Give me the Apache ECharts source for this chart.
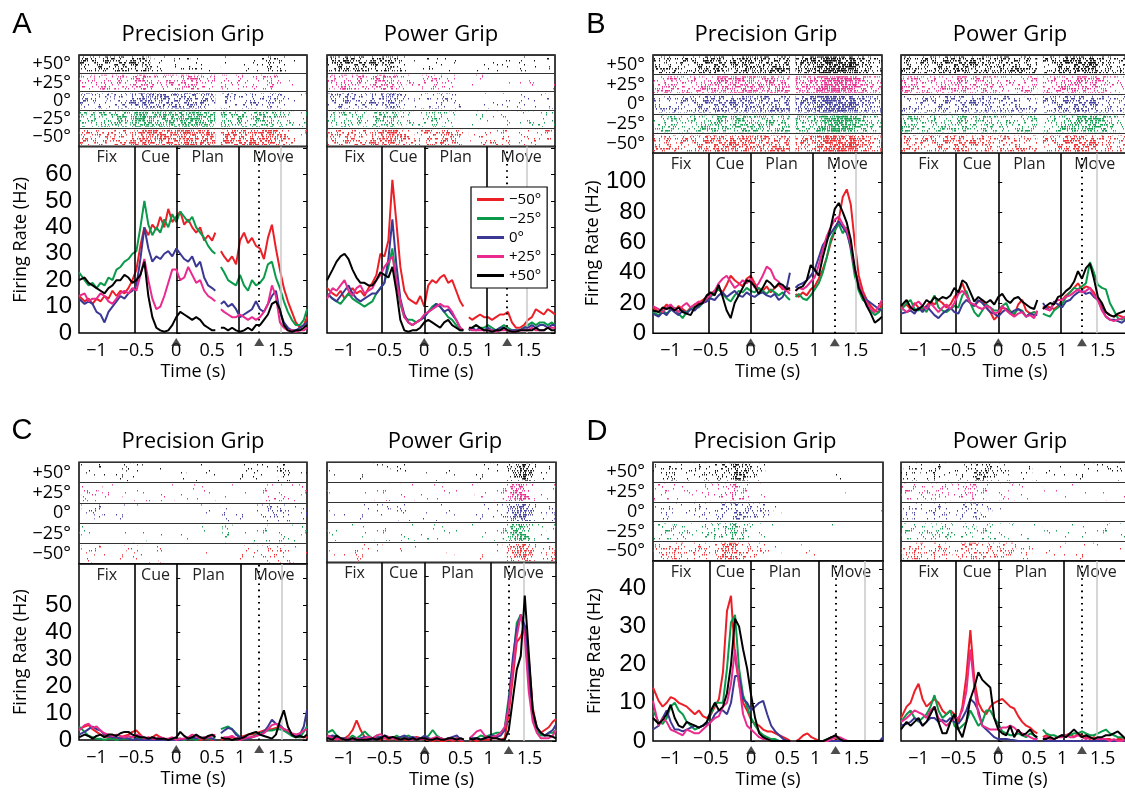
<!DOCTYPE html>
<html>
<head>
<meta charset="utf-8">
<script src="https://cdn.jsdelivr.net/npm/echarts@6/dist/echarts.min.js"></script>
<style>
  html, body { margin: 0; padding: 0; background: #fff; }
  #chart { width: 1125px; height: 792px; }
</style>
</head>
<body>
<div id="chart"></div>
<script>
// plot time: first segment aligned on cue, second segment (after the gap) aligned on movement
var T1 = [-1.22, -1.15, -1.1, -1.05, -1, -0.95, -0.9, -0.85, -0.8, -0.75, -0.7, -0.65, -0.6, -0.55, -0.5, -0.45, -0.4, -0.35,
  -0.3, -0.25, -0.2, -0.15, -0.1, -0.05, 0, 0.05, 0.1, 0.15, 0.2, 0.25, 0.3, 0.35, 0.4, 0.45, 0.49];
var T2 = [0.56, 0.6, 0.65, 0.7, 0.75, 0.8, 0.85, 0.9, 0.95, 1, 1.05, 1.1, 1.15, 1.2, 1.25, 1.3, 1.35, 1.4, 1.45, 1.5, 1.55, 1.6, 1.64];
var GAP_T = 0.525;

var TICK_POS = [-1, -0.5, 0, 0.45, 0.8, 1.31];
var TICK_LABELS = ['−1', '−0.5', '0', '0.5', '1', '1.5'];
var COND_NAMES = ['−50°', '−25°', '0°', '+25°', '+50°'];
var RASTER_ROWS = ['+50°', '+25°', '0°', '−25°', '−50°'];
var EPOCH_NAMES = ['Fix', 'Cue', 'Plan', 'Move'];
var GRIPS = ['Precision Grip', 'Power Grip'];
var PANEL_LETTERS = ['A', 'B', 'C', 'D'];

// [fix/cue, cue/plan, plan/move, movement onset (dotted), grey marker]
var EPOCHS_A_PREC = [-0.52, 0, 0.79, 1.04, 1.31];
var EPOCHS_A_POW = [-0.53, 0, 0.79, 1.04, 1.28];
var EPOCHS_B_PREC = [-0.52, 0, 0.77, 1.05, 1.31];
var EPOCHS_B_POW = [-0.53, 0, 0.78, 1.05, 1.24];
var EPOCHS_C_PREC = [-0.52, 0, 0.81, 1.04, 1.32];
var EPOCHS_C_POW = [-0.53, 0, 0.82, 1.05, 1.24];
var EPOCHS_D_PREC = [-0.52, 0, 0.84, 1.05, 1.41];
var EPOCHS_D_POW = [-0.53, 0, 0.82, 1.05, 1.24];

var Y_TICKS_A = [0, 10, 20, 30, 40, 50, 60, 70];
var Y_LABELS_A = [0, 10, 20, 30, 40, 50, 60];
var Y_TICKS_B = [0, 20, 40, 60, 80, 100];
var Y_LABELS_B = [0, 20, 40, 60, 80, 100];
var Y_TICKS_C = [0, 10, 20, 30, 40, 50, 60];
var Y_LABELS_C = [0, 10, 20, 30, 40, 50];
var Y_TICKS_D = [0, 5, 10, 15, 20, 25, 30, 35, 40, 45];
var Y_LABELS_D = [0, 10, 20, 30, 40];

// firing rates (Hz): segment 1, null (gap), segment 2
var A_PREC_M50 = [14,12,13,11,13,12,14,13,16,14,16,15,17,20,24,33,40,37,41,39,44,40,47,42,44,46,41,43,40,38,40,35,37,35,38, null,
  31,29,27,29,26,35,38,34,36,33,32,28,36,41,32,24,17,12,8,4,2,3,6];
var A_PREC_M25 = [23,20,18,19,17,19,18,21,20,24,25,27,28,30,31,40,50,41,37,40,38,43,40,45,42,46,44,42,44,40,38,36,33,31,30, null,
  25,23,20,19,18,22,18,16,20,18,19,21,26,27,21,17,12,8,5,3,3,5,9];
var A_PREC_0 = [13,11,12,11,8,7,4,8,10,12,14,13,15,16,18,28,40,32,27,29,28,30,31,29,32,30,28,27,29,25,27,21,18,17,16, null,
  11,12,10,11,9,6,7,8,9,12,9,8,11,14,16,8,4,2,1,1,2,3,4];
var A_PREC_P25 = [14,15,12,13,13,15,14,12,11,13,15,16,15,17,16,22,28,20,13,9,10,14,19,24,24,20,21,25,22,19,20,16,14,13,12, null,
  9,8,7,6,6,7,6,5,6,5,6,8,11,18,14,4,2,1,1,0.5,1,1,2];
var A_PREC_P50 = [20,21,19,18,17,16,15,17,18,20,20,22,21,19,20,22,27,14,6,2,1,0.5,1,3,6,8,7,6,5,6,5,3,2,1,1, null,
  2,2,1,2,1,0.5,1,2,1,3,3,5,7,11,12,9,3,1,0.5,1,1,2,3];

var A_POW_M50 = [17,15,14,16,13,15,17,15,16,14,17,19,22,30,29,35,58,42,25,16,13,12,11,14,10,18,20,19,21,22,19,20,16,12,10, null,
  6,5,6,7,6,6,5,6,7,7,8,4,2,2,3,5,6,9,8,7,9,8,7];
var A_POW_M25 = [15,13,12,11,13,15,13,12,11,10,11,12,15,17,19,25,32,20,11,6,5,5,4,5,6,8,10,11,10,8,6,5,3,1,1, null,
  1,2,3,2,2,3,2,1,2,3,2,1,1,1,2,3,4,3,4,4,3,4,3];
var A_POW_0 = [15,13,12,14,16,18,15,13,12,13,14,15,15,17,19,28,43,26,13,7,4,3,4,5,6,8,9,11,10,8,9,7,5,2,1, null,
  1,2,1,2,1,2,1,1,2,2,1,1,1,1,2,2,3,2,3,3,2,3,3];
var A_POW_P25 = [13,17,16,18,20,16,14,17,18,15,16,17,20,22,25,27,29,20,12,6,4,3,4,5,7,8,9,10,11,10,10,8,5,2,1, null,
  2,1,1,1,1,1,1,0.5,1,1,1,0.5,0.5,1,1,1,2,1,1,1,2,2,2];
var A_POW_P50 = [20,24,27,29,30,28,24,21,19,19,18,18,20,23,22,21,25,16,5,1,0.5,1,1,2,4,5,4,3,2,4,5,3,2,1,1, null,
  2,2,3,2,1,1,0.5,1,1,2,1,0.5,0.5,1,1,1,1,2,1,1,2,1,1];

var B_PREC_M50 = [17,14,16,19,17,15,18,16,14,17,19,20,22,24,26,28,30,27,32,38,35,33,31,36,38,33,29,28,31,27,30,32,29,31,28, null,
  26,24,27,25,29,31,36,42,50,60,67,75,90,95,85,60,38,28,22,18,15,14,20];
var B_PREC_M25 = [14,12,15,13,15,17,13,10,14,16,18,17,20,22,24,27,29,26,23,21,25,28,27,30,28,27,30,28,26,29,27,25,27,24,22, null,
  24,26,23,22,25,29,33,40,50,62,68,72,66,70,55,38,28,22,20,15,12,14,17];
var B_PREC_0 = [13,11,14,12,16,14,12,15,13,16,15,18,20,21,23,22,25,27,24,26,28,25,24,27,25,24,26,27,25,24,26,22,24,30,40, null,
  30,32,33,35,38,42,50,58,62,66,70,74,70,66,57,42,32,25,22,20,18,16,15];
var B_PREC_P25 = [18,16,14,17,19,16,14,18,20,17,19,21,20,23,25,28,33,36,38,34,30,32,35,33,36,30,33,38,44,42,36,34,30,28,26, null,
  28,30,29,31,34,37,45,55,64,70,75,77,72,68,59,42,33,25,20,16,14,18,22];
var B_PREC_P50 = [15,14,17,16,17,15,17,14,13,12,17,19,20,25,27,25,32,24,15,10,20,25,30,35,34,31,26,30,35,33,30,33,32,29,30, null,
  28,30,31,35,45,42,38,50,60,70,82,86,80,73,62,43,30,24,18,13,7,9,11];

var B_POW_M50 = [17,19,16,20,17,15,18,21,19,22,20,17,19,24,27,33,26,20,18,21,22,17,14,9,12,17,16,15,12,19,22,15,13,14,13, null,
  17,18,17,16,18,22,25,27,30,33,29,31,30,27,22,18,14,12,11,12,11,9,10];
var B_POW_M25 = [15,20,22,16,15,17,14,20,25,17,15,14,16,18,17,25,28,20,14,11,15,19,17,15,15,18,20,14,13,16,15,11,13,14,13, null,
  13,12,11,15,17,19,24,27,30,29,31,33,47,40,32,30,29,20,15,10,9,11,12];
var B_POW_0 = [13,14,15,13,17,14,18,15,12,10,13,15,17,14,13,19,22,20,18,22,20,17,14,13,11,14,16,13,15,16,14,11,13,12,12, null,
  20,17,15,21,19,17,21,22,25,27,28,26,27,24,22,16,11,9,9,8,7,9,10];
var B_POW_P25 = [17,14,16,19,21,18,16,20,17,14,17,19,16,20,26,28,25,20,19,17,16,18,17,13,14,18,15,13,11,13,14,11,12,10,15, null,
  17,16,15,20,22,22,24,25,27,29,27,28,30,25,22,15,11,9,8,9,10,11,11];
var B_POW_P50 = [18,22,17,15,16,18,22,20,24,22,24,23,25,30,27,35,33,27,21,24,22,20,22,19,24,26,22,20,23,24,21,19,17,16,22, null,
  16,18,20,19,24,25,28,30,34,41,36,43,46,36,24,20,14,12,11,13,14,15,16];

var C_PREC_M50 = [4,5,5.5,4,3,2,1.5,1,1,0.5,1,1.5,2,3,3.5,2,0.5,0.5,1,2,1,0.5,0,0,0.5,0.5,0,0.5,1,0.5,0,0.5,0.5,0,0, null,
  0,0.5,0.5,1,0.5,1,1.5,2,2,2.5,3,3.5,4,4,4.5,5,4,3,2,2,1,1,1];
var C_PREC_M25 = [5,3,1.5,1,0.5,0.5,0,0.5,0.5,0,0.5,0.5,0.5,1,1,0.5,0.5,0,0.5,0.5,0.5,0,0,0,0.5,0.5,0,0.5,0.5,0,0.5,1,0.5,0.5,1, null,
  4,4.5,5,4,2.5,1,0.5,0.5,1,2,2.5,3,3.5,3.5,4,4,3.5,2.5,1.5,1,1,3,5];
var C_PREC_0 = [2,3,4,5,4,3.5,2,1.5,1,1,0.5,1,0.5,0,0.5,0,0,0,0,0,0,0,0,0,0,0,0.5,0.5,1,0.5,1,0.5,1,0.5,0, null,
  2.5,3.5,4.5,4,2,1,0.5,0.5,1,1.5,2,3,5,7.5,6,5.5,4,3.5,2,1.5,2,5,11];
var C_PREC_P25 = [3.5,5.5,6,4.5,5,3.5,2.5,2,1.5,2,1.5,1,1.5,1,2,1.5,0.5,1,0.5,0.5,1,0.5,0.5,1,0,0.5,0.5,1,2,1.5,0.5,1,1,1.5,2, null,
  0.5,1,1,1.5,0.5,0,0.5,1,1,1.5,2,2.5,4,5.5,6,5,4,3.5,2.5,2,2.5,3.5,4];
var C_PREC_P50 = [1,2,1.5,0.5,1.5,2,1,2,2,1.5,2.5,3,3,2,1.5,1,1,0.5,1,0.5,0.5,0.5,0,0.5,1,3,1.5,0.5,1,2,1,0.5,1.5,2,1, null,
  1,0.5,0.5,0,0.5,0.5,1,2,2.5,3,2,1.5,1,0.5,2,7,11,5,2,1,1.5,1,2];

var C_POW_M50 = [2,1.5,1,0.5,1,2,4,7.5,4,1.5,1,0.5,1,0.5,1,0.5,1,0.5,1,0.5,0.5,1,1.5,1,0.5,0.5,0,0.5,0,0,0.5,0,0.5,0,0, null,
  0,0.5,0,0.5,0.5,0.5,1,1,0.5,1,10,23,36,38,42,30,12,5,3,4,5,7,8];
var C_POW_M25 = [3,4,2,1,0.5,1,2,1,2,3.5,2,1,2,1,1.5,1,1,2,1,1.5,2,1,1,0.5,1,2,4,2,1,0.5,1,0.5,1,0.5,0.5, null,
  0.5,1,1,2,1.5,2,2.5,3,3,5,16,28,43,46,40,22,9,4,2,2,3,3,4];
var C_POW_0 = [1,2,1.5,1,1,0.5,1,0.5,1,1.5,1,0.5,1,1.5,2,1.5,1,1,1.5,2,1,1.5,1,1,2,1,0.5,1,1,0.5,1,1.5,2,0.5,0.5, null,
  0.5,1,1,0.5,1,1.5,2,1.5,2,4,14,30,41,46,42,24,10,5,3,2,3,4,6];
var C_POW_P25 = [2,1,0.5,1,0.5,1,0.5,1,0.5,1,1.5,1,2,2.5,1,1.5,1,1,0.5,1,0.5,0.5,1,0.5,1,0.5,1,1.5,1,0.5,1,0.5,1,0.5,0.5, null,
  1,2,3.5,4,2,1,1.5,2,3,5,12,26,38,46,38,18,7,3,1,1,1,2,4];
var C_POW_P50 = [1,0.5,2,1,0.5,0.5,1,0.5,0.5,0.5,0.5,1,0.5,1,2,1,1.5,1,0.5,1,0.5,1,0.5,1,1,0.5,0.5,1,0.5,0.5,1,1,0.5,1,0.5, null,
  1,0.5,1,0.5,1,1.5,1,1,0.5,0.5,4,15,26,31,53,32,11,5,3,2,2,1.5,1];

var D_PREC_M50 = [14,10.5,9,10,11.5,11,10,9.5,9,8,7,8,6.5,6,7,9,11,18,34,38,22,15,10,8,5.5,4.5,4,3,2.5,2.5,2,1.5,1,0.5,0, null,
  0,0.5,1.5,2,1,0.5,0,0,0.5,1,0.5,0,0,0,0,0,0,0,0,0,0,0,0];
var D_PREC_M25 = [8,5,4.5,6,9,10,8,7,5,4,3,3.5,4,5,7,10,10,10,19,31,33,19,12,9,6,4,2.5,1.5,1,0.5,0.5,0,0,0,0, null,
  0,0,0,0,0,0,0,0,0.5,1,1,0.5,0,0,0,0,0,0,0,0,0,0,0];
var D_PREC_0 = [3,4,6,8,5,3,3,2.5,3,3.5,4,3.5,4,4.5,5,7,8,8,7,10,17,17,11,10,8,9,10,10.5,7,4,2.5,1.5,0.5,0,0, null,
  0,0,0,0,0,0,0,0,0,0,0,0,0,0,0,0,0,0,0,0,0,0,1];
var D_PREC_P25 = [10.5,4,6,5,3,2.5,2,1.5,3,2.5,2,2,3,4,5,6,6.5,9,10,15,24,15,7,4,3,2,1,0.5,0.5,0,0,0,0,0,0, null,
  0,0,0,0,0,0,0,0,0,0.5,1,1,0.5,0,0,0,0,0,0,0,0,0,0];
var D_PREC_P50 = [6,4.5,5.5,7,9.5,6,4,3.5,5,4.5,4,3.5,4,5,8,10,8,9,12.5,20,32,30,24,19,12,6,2,1,0.5,0,0,0,0,0,0, null,
  0,0,0,0,0,0,0,0,0.5,1,1.5,0.5,0,0,0,0,0,0,0,0,0,0,0];

var D_POW_M50 = [6,9,10,13,15,11,9,10,11,10,8,7,8,7,5,9,17,29,16,10,8,7,9,10,10.5,11,10,9,8.5,6.5,5,4,3.5,2.5,2, null,
  1,1.5,1,0.5,1,1.5,1.5,2,1,2,1.5,1,0.5,1,0.5,0.5,0.5,0.5,0,0.5,0.5,0,0];
var D_POW_M25 = [5,7,8,6,5,6,7,9,12,8,6,7,8,4,3,4,5,8,6,4,5,8,8,6,4.5,2.5,2,1.5,1.5,2,1.5,1,2,1.5,0.5, null,
  3,2,1.5,1.5,1,1.5,1.5,1.5,2,2,2.5,2,1.5,1.5,2,2.5,3,2,1.5,1,1,0.5,0.5];
var D_POW_0 = [4,4.5,5,6,5.5,4,5,6,6,5,5.5,5,6,5,4.5,6,8,11,10,8,4,3,2,1,0.5,0.5,0.5,0.3,0.2,0,0,0,0,0,0, null,
  0,0,0,0,0,0,0,0,0,0,0,0,0,0,0,0,0,0,0,0,0,0,0.5];
var D_POW_P25 = [5,6,7,8,7.5,7,6,8,9,6,5,4,5,6,6,8,13,24,14,7,4,3.5,3,3,3,3.5,3.5,4,3.5,2.5,2,1.5,1,0.5,0.5, null,
  0.5,1,0.5,0.5,1,1,1.5,1,1,1.5,1,0.5,1,0.5,0.5,0.5,0.5,0,0.5,0,0,0.5,0.5];
var D_POW_P50 = [3,5,4,5,6,4,5,7,9,5,2,2,5,7,3,1,5,11,14,18,16,15,14,6,3,2,1.5,4,1,3,1.5,2,3,1.5,1, null,
  0.5,0.5,1,0.5,1,1.5,1,2,3,2,1,1.5,1,0.5,1,1,1.5,1.5,2,2.5,1.5,0.5,0.5];

var SUBPLOTS = [
  {rates: [A_PREC_M50, A_PREC_M25, A_PREC_0, A_PREC_P25, A_PREC_P50], epochs: EPOCHS_A_PREC, ticks: Y_TICKS_A, labels: Y_LABELS_A},
  {rates: [A_POW_M50, A_POW_M25, A_POW_0, A_POW_P25, A_POW_P50], epochs: EPOCHS_A_POW, ticks: Y_TICKS_A, labels: Y_LABELS_A},
  {rates: [B_PREC_M50, B_PREC_M25, B_PREC_0, B_PREC_P25, B_PREC_P50], epochs: EPOCHS_B_PREC, ticks: Y_TICKS_B, labels: Y_LABELS_B},
  {rates: [B_POW_M50, B_POW_M25, B_POW_0, B_POW_P25, B_POW_P50], epochs: EPOCHS_B_POW, ticks: Y_TICKS_B, labels: Y_LABELS_B},
  {rates: [C_PREC_M50, C_PREC_M25, C_PREC_0, C_PREC_P25, C_PREC_P50], epochs: EPOCHS_C_PREC, ticks: Y_TICKS_C, labels: Y_LABELS_C},
  {rates: [C_POW_M50, C_POW_M25, C_POW_0, C_POW_P25, C_POW_P50], epochs: EPOCHS_C_POW, ticks: Y_TICKS_C, labels: Y_LABELS_C},
  {rates: [D_PREC_M50, D_PREC_M25, D_PREC_0, D_PREC_P25, D_PREC_P50], epochs: EPOCHS_D_PREC, ticks: Y_TICKS_D, labels: Y_LABELS_D},
  {rates: [D_POW_M50, D_POW_M25, D_POW_0, D_POW_P25, D_POW_P50], epochs: EPOCHS_D_POW, ticks: Y_TICKS_D, labels: Y_LABELS_D}
];

// layout (pixels)
var X_MIN = -1.22, X_MAX = 1.64;
var LAYOUT = [
  {left: 79, width: 228, rasterTop: 55, rateTop: 146.5, bottom: 333, yMax: 70.6, titleX: 193, titleY: 35},
  {left: 327, width: 228, rasterTop: 55, rateTop: 146.5, bottom: 333, yMax: 70.6, titleX: 441, titleY: 35},
  {left: 653, width: 229, rasterTop: 55, rateTop: 153.3, bottom: 333.3, yMax: 118.8, titleX: 766, titleY: 35},
  {left: 901, width: 228, rasterTop: 55, rateTop: 153.3, bottom: 333.3, yMax: 118.8, titleX: 1010, titleY: 35},
  {left: 79, width: 228, rasterTop: 462.3, rateTop: 564, bottom: 740, yMax: 65.2, titleX: 193, titleY: 442},
  {left: 327, width: 229, rasterTop: 462.3, rateTop: 562.5, bottom: 741, yMax: 65, titleX: 445, titleY: 442},
  {left: 653, width: 230, rasterTop: 462.3, rateTop: 561, bottom: 741, yMax: 47.1, titleX: 765, titleY: 442},
  {left: 901, width: 228, rasterTop: 462.3, rateTop: 561, bottom: 741, yMax: 47.1, titleX: 1010, titleY: 442}
];
var LETTER_POS = [[22, 25], [596, 25], [22, 431], [597, 432]];

var COLORS = ['#ec1f27', '#0a9a4a', '#3b3894', '#ea2a8c', '#000000'];
var RASTER_COLORS = ['#111111', '#ea2f90', '#4440a0', '#12a050', '#ee3035'];
var FONT = "'Open Sans', 'Noto Sans', sans-serif";
var NUM_FONT = "'Liberation Sans', Arial, sans-serif";

var U = T1.concat([GAP_T], T2);

// stipple texture for the raster rows: one tick per spike, trials every 2 px; tick count follows the firing rate
var TILE_W = 120, TILE_H = 40;
var tiles = {};
function scramble(i, s) {
  var h = Math.imul(i + 1, 374761393) + Math.imul(s, 668265263);
  h = Math.imul(h ^ (h >>> 13), 1274126177);
  return (h ^ (h >>> 16)) >>> 0;
}
function stipple(color, rate) {
  var n = Math.min(3000, Math.round(rate * 45 / 10) * 10);
  var key = color + n;
  if (!tiles[key]) {
    var c = document.createElement('canvas');
    c.width = TILE_W; c.height = TILE_H;
    var ctx = c.getContext('2d');
    ctx.fillStyle = color;
    for (var i = 0; i < n; i++) {
      ctx.fillRect(scramble(i, 1) % TILE_W, (scramble(i, 2) % (TILE_H / 2)) * 2, 1, 1.5);
    }
    tiles[key] = {image: c, repeat: 'repeat'};
  }
  return tiles[key];
}

function rasterData(rates) {
  var items = [];
  var segs = [[0, T1.length - 1], [T1.length + 1, U.length - 1]];
  for (var r = 0; r < 5; r++) {
    var vals = rates[4 - r];
    segs.forEach(function (s) {
      for (var i = s[0]; i <= s[1]; i++) {
        var lo = i === s[0] ? U[i] : (U[i - 1] + U[i]) / 2;
        var hi = i === s[1] ? U[i] : (U[i] + U[i + 1]) / 2;
        items.push([lo, hi, r, vals[i]]);
      }
    });
  }
  return items;
}

function renderRaster(params, api) {
  var row = api.value(2);
  var p0 = api.coord([api.value(0), row]);
  var p1 = api.coord([api.value(1), row]);
  var band = api.size([0, 1])[1];
  return {
    type: 'rect',
    shape: {x: p0[0], y: p0[1] - band / 2 + 1.5, width: p1[0] - p0[0], height: band - 3},
    style: {fill: stipple(RASTER_COLORS[row], api.value(3))}
  };
}

var grids = [], xAxes = [], yAxes = [], series = [], graphics = [];

SUBPLOTS.forEach(function (sp, k) {
  var L = LAYOUT[k];
  var isPrec = k % 2 === 0;
  var e = sp.epochs;
  grids.push({left: L.left, top: L.rasterTop, width: L.width, height: L.rateTop - L.rasterTop,
    show: true, borderColor: '#000', borderWidth: 1.5, containLabel: false, outerBoundsMode: 'none'});
  grids.push({left: L.left, top: L.rateTop, width: L.width, height: L.bottom - L.rateTop,
    show: true, borderColor: '#000', borderWidth: 1.5, containLabel: false, outerBoundsMode: 'none'});

  xAxes.push({type: 'value', gridIndex: 2 * k, min: X_MIN, max: X_MAX, show: false});
  xAxes.push({
    type: 'value', gridIndex: 2 * k + 1, min: X_MIN, max: X_MAX,
    axisLine: {show: false}, axisTick: {show: false}, splitLine: {show: false},
    axisLabel: {
      customValues: TICK_POS, margin: 9, color: '#000', fontSize: 18, fontFamily: FONT,
      formatter: function (v) {
        var best = 0;
        TICK_POS.forEach(function (p, i) { if (Math.abs(p - v) < Math.abs(TICK_POS[best] - v)) best = i; });
        return TICK_LABELS[best];
      }
    },
    name: 'Time (s)', nameLocation: 'middle', nameGap: 30,
    nameTextStyle: {color: '#000', fontSize: 18, fontFamily: FONT}
  });

  yAxes.push({
    type: 'category', gridIndex: 2 * k, data: RASTER_ROWS, inverse: true,
    axisLine: {show: false}, axisTick: {show: false},
    axisLabel: {show: isPrec, interval: 0, color: '#000', fontSize: 18, fontFamily: FONT, margin: 8},
    splitLine: {show: true, interval: 0, lineStyle: {color: '#333', width: 1.2}}
  });
  yAxes.push({
    type: 'value', gridIndex: 2 * k + 1, min: 0, max: L.yMax,
    axisLine: {show: false}, splitLine: {show: false},
    axisTick: {show: true, inside: true, length: 4, customValues: sp.ticks, lineStyle: {color: '#000', width: 1}},
    axisLabel: {show: isPrec, customValues: sp.labels, color: '#000', fontSize: 24, fontFamily: NUM_FONT, margin: 7},
    name: isPrec ? 'Firing Rate (Hz)' : '', nameLocation: 'middle', nameGap: 49,
    nameTextStyle: {color: '#000', fontSize: 18, fontFamily: FONT}
  });
  yAxes.push({
    type: 'value', gridIndex: 2 * k + 1, position: 'right', min: 0, max: L.yMax,
    axisLine: {show: false}, splitLine: {show: false}, axisLabel: {show: false},
    axisTick: {show: true, inside: true, length: 4, customValues: sp.ticks, lineStyle: {color: '#000', width: 1}}
  });

  series.push({
    type: 'custom', name: 'raster', xAxisIndex: 2 * k, yAxisIndex: 3 * k,
    renderItem: renderRaster, encode: {x: [0, 1], y: 2}, data: rasterData(sp.rates), silent: true, clip: true
  });

  var solid = {color: '#000', width: 1.6, type: 'solid'};
  series.push({
    type: 'line', name: 'epochs', xAxisIndex: 2 * k + 1, yAxisIndex: 3 * k + 1, data: [], silent: true,
    markLine: {
      symbol: ['none', 'none'], silent: true, label: {show: false}, animation: false,
      data: [
        {xAxis: e[4], lineStyle: {color: '#c9c9c9', width: 1.5, type: 'solid'}},
        {xAxis: e[0], lineStyle: solid},
        {xAxis: e[1], lineStyle: solid},
        {xAxis: e[2], lineStyle: solid},
        {xAxis: e[3], lineStyle: {color: '#000', width: 2, type: [1.6, 4.6]}}
      ]
    },
    markArea: {
      silent: true, itemStyle: {color: 'rgba(0,0,0,0)'},
      label: {show: true, position: 'insideTop', distance: 3, color: '#222', fontSize: 16, fontFamily: FONT},
      data: [
        [{name: EPOCH_NAMES[0], xAxis: X_MIN}, {xAxis: e[0]}],
        [{name: EPOCH_NAMES[1], xAxis: e[0]}, {xAxis: e[1]}],
        [{name: EPOCH_NAMES[2], xAxis: e[1]}, {xAxis: e[2]}],
        [{name: EPOCH_NAMES[3], xAxis: e[2]}, {xAxis: X_MAX}]
      ]
    }
  });

  sp.rates.forEach(function (vals, i) {
    series.push({
      type: 'line', name: COND_NAMES[i], xAxisIndex: 2 * k + 1, yAxisIndex: 3 * k + 1,
      data: U.map(function (u, j) { return [u, vals[j]]; }),
      showSymbol: false, symbol: 'none', connectNulls: false, clip: true, z: 3 + i,
      lineStyle: {color: COLORS[i], width: 2}, itemStyle: {color: COLORS[i]}
    });
  });

  series.push({
    type: 'scatter', name: 'markers', xAxisIndex: 2 * k + 1, yAxisIndex: 3 * k + 1,
    data: [[e[1], 0], [e[3], 0]], symbol: 'triangle', symbolSize: [10, 8], symbolOffset: [0, 9],
    itemStyle: {color: '#231f20'}, clip: false, silent: true, z: 10
  });

  graphics.push({
    type: 'text', x: L.titleX, y: L.titleY, silent: true,
    style: {text: GRIPS[k % 2], fill: '#000', fontSize: 22, fontFamily: FONT, align: 'center', verticalAlign: 'middle'}
  });
});

PANEL_LETTERS.forEach(function (t, i) {
  graphics.push({
    type: 'text', x: LETTER_POS[i][0], y: LETTER_POS[i][1], silent: true,
    style: {text: t, fill: '#000', fontSize: 29, fontFamily: NUM_FONT, align: 'center', verticalAlign: 'middle'}
  });
});

var chart = echarts.init(document.getElementById('chart'), null, {renderer: 'canvas'});
chart.setOption({
  animation: false,
  backgroundColor: '#fff',
  grid: grids,
  xAxis: xAxes,
  yAxis: yAxes,
  legend: {
    data: COND_NAMES, orient: 'vertical', left: 471, top: 187, icon: 'rect',
    itemWidth: 27, itemHeight: 3, itemGap: 4, selectedMode: false,
    textStyle: {color: '#000', fontSize: 15, fontFamily: FONT},
    backgroundColor: '#fff', borderColor: '#000', borderWidth: 1.2, borderRadius: 0, padding: [5, 6, 5, 6], z: 20
  },
  graphic: graphics,
  series: series
});
</script>
</body>
</html>
